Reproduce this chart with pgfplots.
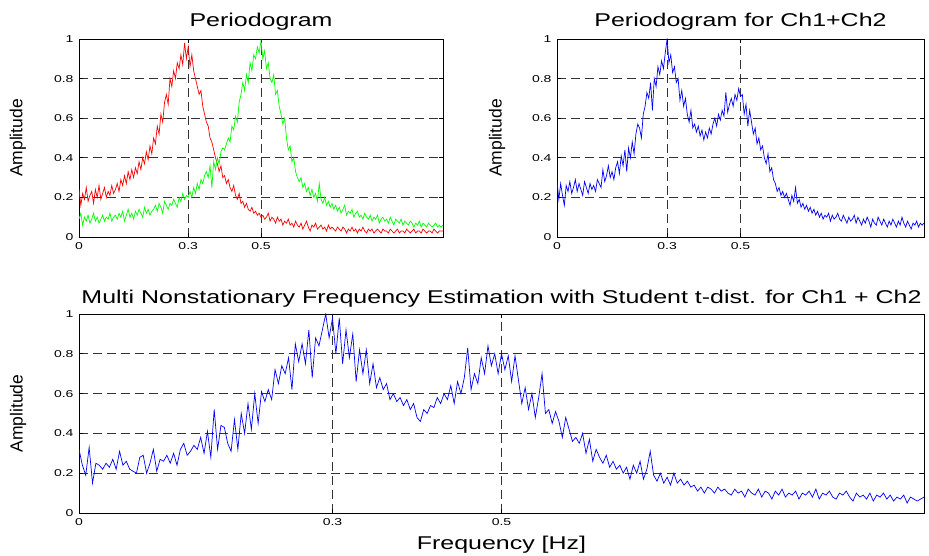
\documentclass[border=0pt]{standalone}
\usepackage{pgfplots}
\pgfplotsset{compat=1.18}
\usepackage{fontspec}
\setmainfont{Liberation Sans}
\newfontfamily\spfont[FakeStretch=1.35]{Liberation Sans}
\newfontfamily\tkfont[FakeStretch=1.4]{Liberation Sans}
\begin{document}
\begin{tikzpicture}
\path[use as bounding box] (0pt,0pt) rectangle (929pt,556pt);
\pgfplotsset{
  mystyle/.style={
    scale only axis,
    xmin=0, xmax=1, ymin=0, ymax=1,
    xtick={0,0.3,0.5}, xticklabels={0,0.3,0.5},
    ytick={0,0.2,0.4,0.6,0.8,1},
    yticklabels={0,0.2,0.4,0.6,0.8,1},
    tick align=inside,
    major tick length=4pt,
    xtick pos=both, ytick pos=both,
    ymajorgrids, xmajorgrids,
    major grid style={black!80, dash pattern=on 9pt off 5pt, line width=0.7pt},
    axis line style={line width=0.8pt},
    tick style={black, line width=0.7pt},
    tick label style={font=\tkfont\fontsize{10}{12}\selectfont},
    xticklabel style={yshift=-2pt},
    yticklabel style={xshift=-2pt},
    ylabel={Amplitude},
    ylabel style={font=\fontsize{17.5}{20}\selectfont, anchor=center, rotate=0},
    title style={font=\spfont\fontsize{18.5}{21}\selectfont, at={(0.5,1)}, anchor=center},
    axis on top=false,
  }
}
% Top-left
\begin{axis}[mystyle, at={(79pt,319pt)}, anchor=south west, width=364pt, height=198pt,
  title={Periodogram}, title style={yshift=11pt},
  ylabel style={at={(axis description cs:-0.168,0.5)}}]
\addplot[red, line width=0.7pt] table[header=false, row sep=\\, y index=0, x expr=\coordindex*0.005] {
0.24\\0.16\\0.22\\0.19\\0.25\\0.18\\0.21\\0.23\\0.17\\0.24\\0.20\\0.26\\0.19\\0.22\\0.25\\0.20\\0.23\\0.21\\0.26\\0.22\\0.24\\
0.27\\0.23\\0.29\\0.26\\0.31\\0.27\\0.33\\0.29\\0.34\\0.30\\
0.35\\0.32\\0.38\\0.34\\0.40\\0.37\\0.43\\0.39\\0.46\\0.42\\
0.50\\0.47\\0.56\\0.52\\0.62\\0.58\\0.68\\0.72\\0.67\\0.80\\
0.76\\0.84\\0.80\\0.88\\0.85\\0.92\\0.87\\0.98\\0.90\\0.96\\
0.86\\0.92\\0.84\\0.80\\0.76\\0.72\\0.74\\0.66\\0.62\\0.58\\
0.56\\0.50\\0.48\\0.44\\0.40\\0.37\\0.33\\0.36\\0.30\\0.31\\
0.27\\0.29\\0.25\\0.23\\0.26\\0.21\\0.19\\0.22\\0.17\\0.18\\
0.15\\0.17\\0.14\\0.13\\0.15\\0.12\\0.13\\0.11\\0.12\\0.10\\
0.11\\0.09\\0.10\\0.12\\0.08\\0.10\\0.09\\0.07\\0.10\\0.08\\0.09\\0.06\\0.08\\0.07\\0.09\\0.06\\0.07\\0.05\\0.08\\0.06\\
0.05\\0.07\\0.04\\0.06\\0.08\\0.05\\0.03\\0.06\\0.05\\0.07\\0.04\\0.05\\0.06\\0.04\\0.05\\0.03\\0.06\\0.04\\0.05\\0.04\\
0.03\\0.05\\0.04\\0.03\\0.05\\0.04\\0.02\\0.04\\0.03\\0.05\\0.03\\0.04\\0.02\\0.04\\0.03\\0.05\\0.03\\0.02\\0.04\\0.03\\
0.04\\0.02\\0.03\\0.04\\0.03\\0.02\\0.04\\0.03\\0.03\\0.02\\0.04\\0.03\\0.02\\0.03\\0.04\\0.02\\0.03\\0.03\\0.02\\0.04\\
0.03\\0.02\\0.03\\0.04\\0.02\\0.03\\0.03\\0.02\\0.04\\0.03\\0.02\\0.03\\0.03\\0.02\\0.04\\0.03\\0.02\\0.03\\0.03\\0.03\\
};
\addplot[green, line width=0.7pt] table[header=false, row sep=\\, y index=0, x expr=\coordindex*0.005] {
0.09\\0.12\\0.06\\0.10\\0.08\\0.11\\0.07\\0.09\\0.12\\0.08\\0.10\\0.07\\0.09\\0.11\\0.08\\0.10\\0.09\\0.12\\0.08\\0.10\\0.11\\
0.09\\0.12\\0.10\\0.13\\0.08\\0.11\\0.14\\0.10\\0.12\\0.09\\
0.13\\0.11\\0.14\\0.12\\0.10\\0.15\\0.12\\0.14\\0.11\\0.13\\
0.14\\0.16\\0.13\\0.17\\0.15\\0.12\\0.18\\0.16\\0.14\\0.17\\
0.16\\0.19\\0.17\\0.15\\0.20\\0.18\\0.22\\0.19\\0.21\\0.20\\
0.23\\0.20\\0.25\\0.22\\0.27\\0.24\\0.29\\0.27\\0.31\\0.33\\
0.30\\0.36\\0.25\\0.38\\0.34\\0.40\\0.37\\0.43\\0.45\\0.44\\
0.47\\0.50\\0.48\\0.56\\0.54\\0.61\\0.58\\0.68\\0.72\\0.78\\
0.74\\0.82\\0.78\\0.88\\0.84\\0.92\\0.90\\0.96\\0.93\\0.99\\
0.90\\0.94\\0.85\\0.88\\0.80\\0.78\\0.82\\0.72\\0.74\\0.66\\
0.62\\0.57\\0.60\\0.50\\0.44\\0.46\\0.38\\0.40\\0.33\\0.30\\
0.28\\0.30\\0.25\\0.27\\0.23\\0.25\\0.21\\0.24\\0.20\\0.22\\0.18\\0.27\\0.19\\0.17\\0.20\\0.16\\0.18\\0.15\\0.17\\0.14\\
0.16\\0.13\\0.15\\0.12\\0.14\\0.16\\0.11\\0.13\\0.12\\0.14\\0.10\\0.12\\0.13\\0.10\\0.11\\0.09\\0.12\\0.10\\0.09\\0.11\\
0.08\\0.10\\0.09\\0.11\\0.07\\0.09\\0.10\\0.08\\0.09\\0.07\\0.10\\0.08\\0.06\\0.09\\0.08\\0.07\\0.09\\0.06\\0.08\\0.07\\
0.06\\0.08\\0.07\\0.05\\0.07\\0.06\\0.08\\0.05\\0.07\\0.06\\0.05\\0.07\\0.06\\0.05\\0.06\\0.07\\0.05\\0.06\\0.05\\0.06\\
};
\end{axis}
% Top-right
\begin{axis}[mystyle, at={(557pt,319pt)}, anchor=south west, width=367pt, height=198pt,
  title={Periodogram for Ch1+Ch2}, title style={yshift=11pt},
  ylabel style={at={(axis description cs:-0.163,0.5)}}]
\addplot[blue, line width=0.7pt] table[header=false, row sep=\\, y index=0, x expr=\coordindex*0.005] {
0.28\\0.19\\0.27\\0.21\\0.16\\0.26\\0.23\\0.28\\0.22\\0.25\\0.29\\0.23\\0.27\\0.24\\0.21\\0.28\\0.25\\0.22\\0.27\\0.24\\0.26\\
0.23\\0.29\\0.27\\0.25\\0.34\\0.28\\0.31\\0.36\\0.30\\0.33\\
0.29\\0.35\\0.38\\0.32\\0.41\\0.36\\0.44\\0.33\\0.45\\0.40\\
0.48\\0.42\\0.52\\0.57\\0.55\\0.50\\0.62\\0.66\\0.73\\0.70\\
0.78\\0.64\\0.80\\0.76\\0.86\\0.82\\0.89\\0.85\\0.93\\1.00\\
0.88\\0.92\\0.83\\0.86\\0.78\\0.80\\0.69\\0.74\\0.66\\0.70\\
0.62\\0.58\\0.64\\0.55\\0.57\\0.53\\0.56\\0.51\\0.54\\0.49\\
0.53\\0.50\\0.55\\0.52\\0.57\\0.60\\0.56\\0.62\\0.59\\0.64\\
0.61\\0.73\\0.63\\0.67\\0.70\\0.66\\0.72\\0.69\\0.75\\0.71\\
0.72\\0.62\\0.67\\0.56\\0.64\\0.58\\0.52\\0.55\\0.47\\0.50\\
0.44\\0.46\\0.40\\0.37\\0.42\\0.33\\0.35\\0.29\\0.27\\0.23\\
0.25\\0.21\\0.23\\0.20\\0.22\\0.19\\0.16\\0.21\\0.18\\0.25\\0.17\\0.19\\0.15\\0.17\\0.14\\0.16\\0.13\\0.15\\0.12\\0.14\\
0.11\\0.13\\0.10\\0.12\\0.09\\0.11\\0.10\\0.12\\0.08\\0.11\\0.09\\0.10\\0.12\\0.09\\0.08\\0.11\\0.09\\0.07\\0.10\\0.08\\
0.09\\0.11\\0.07\\0.10\\0.08\\0.06\\0.09\\0.07\\0.10\\0.08\\0.05\\0.09\\0.07\\0.06\\0.10\\0.08\\0.06\\0.09\\0.07\\0.05\\
0.08\\0.06\\0.09\\0.07\\0.05\\0.08\\0.06\\0.10\\0.07\\0.05\\0.08\\0.06\\0.04\\0.07\\0.06\\0.08\\0.05\\0.07\\0.06\\0.07\\
};
\end{axis}
% Bottom
\begin{axis}[mystyle, at={(79pt,43pt)}, anchor=south west, width=845pt, height=199pt,
  title={Multi Nonstationary Frequency Estimation with Student t-dist. for Ch1 + Ch2},
  title style={yshift=9pt},
  xlabel={Frequency [Hz]},
  xlabel style={font=\spfont\fontsize{18.5}{21}\selectfont, at={(axis description cs:0.5,0)}, anchor=center, yshift=-32pt},
  ylabel style={at={(axis description cs:-0.072,0.5)}}]
\addplot[blue, line width=0.7pt] table[header=false, row sep=\\, y index=0, x expr=\coordindex*0.004] {
0.32\\0.24\\0.19\\0.33\\0.15\\
0.25\\0.24\\0.22\\0.25\\0.23\\0.27\\0.22\\0.31\\0.24\\0.26\\0.22\\
0.21\\0.20\\0.28\\0.29\\0.20\\0.25\\0.32\\0.21\\0.27\\
0.26\\0.29\\0.25\\0.30\\0.24\\0.32\\0.35\\0.29\\
0.31\\0.34\\0.32\\0.38\\0.30\\0.41\\0.28\\0.52\\
0.32\\0.44\\0.43\\0.35\\0.31\\0.47\\0.32\\
0.50\\0.40\\0.55\\0.42\\
0.60\\0.45\\0.61\\0.56\\0.62\\0.57\\
0.72\\0.65\\0.74\\0.70\\0.78\\0.62\\0.85\\0.76\\
0.85\\0.75\\0.92\\0.68\\0.88\\
0.84\\0.92\\1.00\\0.88\\0.98\\
0.80\\0.98\\0.75\\0.92\\0.78\\0.90\\
0.66\\0.82\\0.70\\0.82\\0.65\\
0.75\\0.63\\0.68\\0.62\\0.65\\
0.57\\0.60\\0.56\\0.58\\0.54\\0.57\\0.52\\0.55\\0.48\\
0.46\\0.52\\0.50\\0.54\\0.53\\0.58\\0.55\\
0.60\\0.57\\0.64\\0.55\\0.66\\0.60\\0.68\\0.83\\
0.62\\0.70\\0.65\\0.78\\0.70\\0.84\\0.74\\0.80\\
0.70\\0.80\\0.72\\0.79\\0.66\\0.79\\0.67\\
0.55\\0.63\\0.52\\0.60\\0.48\\0.58\\0.70\\
0.50\\0.52\\0.45\\0.51\\0.46\\0.38\\0.48\\
0.42\\0.36\\0.38\\0.35\\0.40\\0.30\\
0.37\\0.26\\0.32\\0.28\\0.25\\0.29\\0.23\\
0.26\\0.22\\0.24\\0.20\\0.23\\0.17\\0.24\\0.20\\
0.26\\0.17\\0.22\\0.31\\0.19\\0.16\\0.20\\
0.15\\0.18\\0.14\\0.20\\0.15\\0.17\\0.14\\0.16\\
0.13\\0.14\\0.11\\0.13\\0.10\\0.13\\0.12\\0.10\\0.13\\0.11\\
0.12\\0.10\\0.09\\0.12\\0.10\\0.11\\0.08\\0.12\\0.10\\0.09\\
0.12\\0.08\\0.11\\0.10\\0.07\\0.11\\0.09\\0.12\\0.08\\0.10\\0.09\\0.11\\0.07\\0.10\\0.09\\
0.11\\0.08\\0.12\\0.07\\0.10\\0.09\\0.11\\0.08\\0.07\\0.10\\0.09\\0.11\\0.08\\0.06\\0.10\\
0.08\\0.09\\0.07\\0.10\\0.06\\0.09\\0.08\\0.10\\0.07\\0.09\\0.06\\0.08\\0.07\\0.09\\0.05\\0.08\\0.07\\0.06\\0.07\\0.08\\
};
\end{axis}
\end{tikzpicture}
\end{document}
